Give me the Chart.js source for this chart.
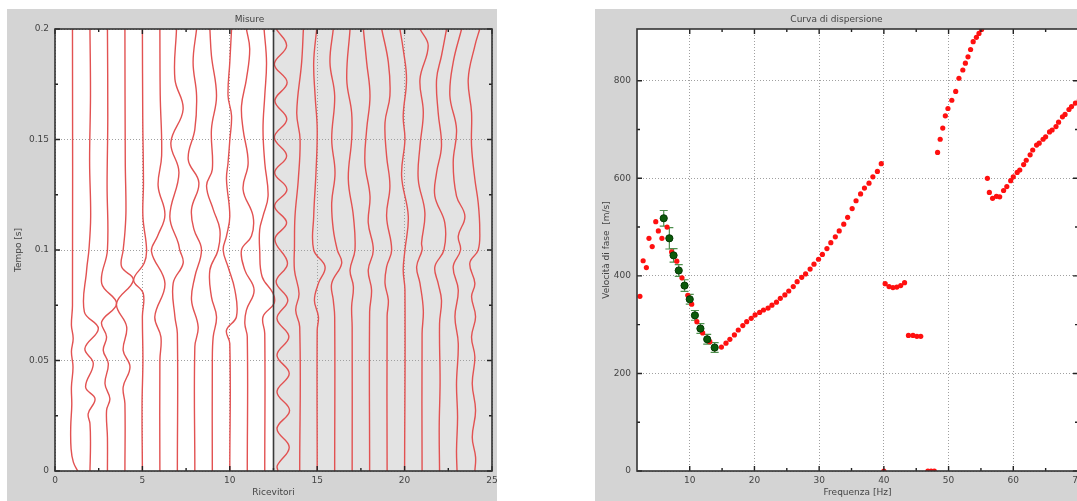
<!DOCTYPE html>
<html>
<head>
<meta charset="utf-8">
<script src="https://cdn.jsdelivr.net/npm/chart.js@4/dist/chart.umd.min.js"></script>
<style>
  html, body { margin: 0; padding: 0; background: #fff; overflow: hidden; width: 1077px; height: 501px; }
  canvas { position: absolute; background: #d4d4d4; }
  #misure { left: 7px; top: 9px; }
  #dispersione { left: 595px; top: 9px; }
</style>
</head>
<body>
<canvas id="misure" width="490" height="492"></canvas>
<canvas id="dispersione" width="493" height="492"></canvas>
<script>
// --- Misure: tracce dei ricevitori (tempo [s], spostamento in unita di ricevitore) ---
var ricevitori = [1, 2, 3, 4, 5, 6, 7, 8, 9, 10, 11, 12, 13, 14, 15, 16, 17, 18, 19, 20, 21, 22, 23, 24];
var tickRicevitori = [0, 5, 10, 15, 20, 25];
var tickTempo = [0, 0.05, 0.1, 0.15, 0.2];
var tracce = [
  [[0.2, 0], [0.075, 0], [0.066, -0.06], [0.06, 0.04], [0.054, -0.06], [0.047, 0.03], [0.038, -0.06], [0.03, -0.04], [0.02, -0.1], [0.01, -0.08], [0.004, 0.05], [0, 0.3]],
  [[0.2, 0], [0.17, 0.03], [0.14, -0.02], [0.115, 0.04], [0.1, -0.06], [0.091, -0.19], [0.072, -0.32], [0.0645, 0.48], [0.0554, -0.29], [0.0486, 0.19], [0.038, -0.25], [0.0327, 0.29], [0.026, -0.1], [0.0214, 0], [0.012, 0.03], [0, 0]],
  [[0.2, 0], [0.16, 0.02], [0.13, -0.02], [0.1, 0], [0.0849, -0.33], [0.0758, 0.52], [0.0675, -0.33], [0.0607, -0.05], [0.0546, -0.24], [0.0486, 0.05], [0.0395, -0.14], [0.0327, 0.14], [0.0274, -0.05], [0.015, 0], [0, 0]],
  [[0.2, 0], [0.14, 0.02], [0.118, 0.06], [0.108, 0], [0.1, -0.1], [0.0924, -0.19], [0.0864, 0.48], [0.0758, -0.48], [0.0652, 0.1], [0.0546, -0.1], [0.0471, 0.29], [0.038, -0.1], [0.0305, 0], [0, 0]],
  [[0.2, 0], [0.16, 0.02], [0.13, 0.06], [0.115, 0.03], [0.1, 0.24], [0.094, 0.1], [0.0864, -0.5], [0.0803, 0.05], [0.07, 0], [0.05, 0.03], [0.03, -0.02], [0, 0]],
  [[0.2, 0], [0.17, 0.02], [0.1426, 0.1], [0.129, -0.1], [0.116, 0.29], [0.1063, -0.13], [0.0993, -0.48], [0.0849, 0.29], [0.0698, -0.29], [0.0607, 0.06], [0.05, 0], [0, 0]],
  [[0.2, -0.05], [0.1773, -0.14], [0.1637, 0.33], [0.1486, -0.37], [0.135, 0.09], [0.1153, -0.43], [0.1032, 0.05], [0.1, 0.14], [0.094, 0.33], [0.0849, -0.24], [0.0698, -0.14], [0.0622, 0], [0, 0]],
  [[0.2, 0.1], [0.1849, -0.1], [0.1698, 0.1], [0.1546, 0], [0.141, -0.38], [0.1305, 0.23], [0.1184, -0.19], [0.1093, -0.05], [0.1002, 0.38], [0.0879, 0], [0.0773, -0.19], [0.0652, 0.19], [0.0562, 0], [0, 0]],
  [[0.2, -0.14], [0.1879, -0.05], [0.1698, 0.24], [0.1546, -0.05], [0.1365, 0], [0.129, -0.33], [0.1184, 0.05], [0.1093, 0.43], [0.1, 0.33], [0.0909, -0.14], [0.0788, -0.05], [0.0698, 0.24], [0.0607, 0.05], [0.05, 0], [0, 0]],
  [[0.2, 0.1], [0.1849, 0], [0.1698, -0.1], [0.1607, 0.1], [0.1497, 0], [0.1395, -0.1], [0.132, -0.19], [0.1153, 0], [0.1063, -0.19], [0.1, -0.38], [0.0924, -0.1], [0.0819, 0.29], [0.0698, 0.38], [0.0637, -0.19], [0.0577, 0], [0, 0]],
  [[0.2, -0.05], [0.1909, 0.14], [0.1773, -0.05], [0.1652, -0.33], [0.1546, -0.24], [0.1395, 0.05], [0.1274, -0.24], [0.1153, 0.33], [0.1063, 0.24], [0.1, -0.33], [0.0909, -0.14], [0.0819, 0.39], [0.0728, -0.05], [0.0667, -0.14], [0.0607, 0], [0, 0]],
  [[0.2, -0.04], [0.1849, 0.1], [0.1698, 0], [0.1546, -0.1], [0.1395, 0], [0.1244, 0.19], [0.1153, -0.1], [0.1093, -0.29], [0.1, -0.29], [0.0879, -0.15], [0.0803, 0.48], [0.0758, 0.53], [0.0698, -0.1], [0.0622, 0], [0, 0]],
  [[0.2, -0.35], [0.1924, 0.25], [0.1841, -0.45], [0.1758, 0.28], [0.1675, -0.42], [0.1592, 0.26], [0.1509, -0.45], [0.1426, 0.25], [0.135, -0.43], [0.1274, 0.27], [0.1199, -0.44], [0.1123, 0.25], [0.1048, -0.42], [0.094, 0.3], [0.0856, -0.35], [0.0773, 0.32], [0.069, -0.3], [0.0607, 0.38], [0.0524, -0.3], [0.0441, 0.4], [0.0358, -0.3], [0.0274, 0.42], [0.0191, -0.3], [0.0108, 0.4], [0.0025, -0.28], [0, -0.25]],
  [[0.2, 0.21], [0.1849, 0.11], [0.1622, -0.17], [0.1501, 0.02], [0.132, -0.08], [0.1153, -0.27], [0.1017, -0.3], [0.0909, -0.3], [0.0803, -0.04], [0.0728, -0.23], [0.0652, 0], [0, 0]],
  [[0.2, -0.03], [0.1849, -0.2], [0.1698, -0.12], [0.1546, 0], [0.135, -0.07], [0.1153, -0.2], [0.1, -0.2], [0.0924, 0.45], [0.0849, 0.07], [0.0773, -0.16], [0.0698, 0.07], [0.0637, 0], [0, 0]],
  [[0.2, -0.08], [0.1849, -0.27], [0.1698, 0], [0.1501, -0.17], [0.135, 0.02], [0.1214, -0.17], [0.1093, -0.08], [0.1, 0.15], [0.094, 0.4], [0.0849, -0.17], [0.0773, -0.08], [0.0698, 0], [0, 0]],
  [[0.2, -0.12], [0.1773, -0.31], [0.1622, -0.03], [0.1501, -0.03], [0.132, -0.22], [0.1153, 0.07], [0.1, 0.16], [0.0909, -0.12], [0.0834, 0.07], [0.0743, -0.03], [0.065, 0], [0, 0]],
  [[0.2, -0.36], [0.1849, -0.17], [0.1698, 0.02], [0.1546, -0.17], [0.1395, -0.27], [0.1244, 0.02], [0.1123, -0.08], [0.1, 0.21], [0.0909, -0.08], [0.0819, 0.11], [0.072, 0], [0, 0]],
  [[0.2, -0.31], [0.1849, 0.07], [0.1698, 0.16], [0.1577, -0.12], [0.1426, -0.03], [0.129, 0.16], [0.1153, -0.03], [0.1, 0.26], [0.0924, -0.03], [0.0849, -0.12], [0.0773, 0.07], [0.07, 0], [0, 0]],
  [[0.2, -0.27], [0.1909, -0.08], [0.1773, 0.11], [0.1607, -0.08], [0.1501, 0.02], [0.1335, -0.17], [0.1153, 0.21], [0.1, 0.02], [0.0909, -0.08], [0.0819, 0.02], [0, 0]],
  [[0.2, -0.12], [0.1924, 0.35], [0.1773, -0.12], [0.1622, 0.07], [0.1471, -0.12], [0.132, -0.22], [0.1169, 0.16], [0.1032, -0.03], [0.1, 0], [0.0924, -0.31], [0.0849, -0.12], [0.0728, 0.07], [0.062, 0], [0, 0]],
  [[0.2, 0.4], [0.1879, 0.11], [0.1773, -0.17], [0.1622, -0.08], [0.1471, 0.11], [0.135, -0.17], [0.1244, -0.27], [0.1123, 0.3], [0.1, 0.25], [0.0924, -0.27], [0.0849, -0.08], [0.0773, 0.11], [0.0667, 0], [0.04, 0.03], [0.02, -0.02], [0, 0]],
  [[0.2, 0.26], [0.1849, -0.22], [0.1698, -0.41], [0.1546, -0.03], [0.1395, -0.22], [0.1244, -0.03], [0.1153, 0.45], [0.1063, 0.07], [0.1, 0.2], [0.0924, -0.22], [0.0819, 0.07], [0.0698, -0.12], [0.0577, 0.07], [0.0395, -0.03], [0.0244, 0.03], [0.0093, -0.03], [0, 0]],
  [[0.2, 0.3], [0.1924, 0.02], [0.1773, -0.36], [0.1622, -0.17], [0.1471, -0.17], [0.132, 0.02], [0.1214, 0.21], [0.1093, 0.3], [0.1, 0.21], [0.094, -0.27], [0.0849, 0.02], [0.0788, -0.17], [0.0698, 0.06], [0.0607, -0.17], [0.0516, 0.02], [0.0395, -0.13], [0.0274, 0.06], [0.0153, -0.13], [0.0063, 0.06], [0, 0.02]]
];

// --- Curva di dispersione ---
var frequenze = [2.3, 2.8, 3.3, 3.7, 4.2, 4.75, 5.15, 5.7, 6.5, 7.2, 8.0, 8.8, 9.7, 10.3, 11.1, 12.0, 13.1, 13.9,
  14.9, 15.6, 16.2, 16.9, 17.5, 18.2, 18.8, 19.5, 20.1, 20.8, 21.4, 22.1, 22.7, 23.4, 24.0, 24.7, 25.3, 26.0, 26.6, 27.3,
  27.9, 28.6, 29.2, 29.9, 30.5, 31.2, 31.8, 32.5, 33.1, 33.8, 34.4, 35.1, 35.7, 36.4, 37.0, 37.7, 38.3, 39.0, 39.6,
  40.0, 40.2, 40.8, 41.4, 42.0, 42.6, 43.2, 43.8, 44.5, 45.1, 45.7, 46.8, 47.3, 47.8,
  48.3, 48.7, 49.1, 49.5, 49.9, 50.5, 51.1, 51.6, 52.2, 52.6, 53.0, 53.4, 53.8, 54.3, 54.7, 55.1,
  56.0, 56.3, 56.8, 57.4, 57.9, 58.5, 59.0, 59.6, 60.0, 60.6, 61.0, 61.6, 62.0, 62.6, 63.0, 63.6, 64.0, 64.6, 65.0,
  65.6, 66.0, 66.6, 67.0, 67.6, 68.0, 68.6, 69.0, 69.6, 70.2];
var velocita = [358, 431, 417, 477, 460, 511, 492, 477, 500, 449, 430, 396, 360, 342, 306, 283, 265, 251,
  254, 262, 270, 279, 289, 298, 306, 313, 320, 325, 330, 334, 340, 346, 354, 361, 369, 378, 388, 397,
  404, 414, 424, 434, 444, 456, 468, 480, 492, 506, 520, 538, 554, 568, 580, 590, 603, 614, 630,
  0, 384, 378, 376, 377, 380, 386, 278, 278, 276, 276, 0, 0, 0,
  653, 680, 703, 728, 743, 760, 778, 805, 822, 836, 849, 864, 880, 889, 897, 905,
  600, 571, 559, 563, 562, 575, 583, 595, 603, 612, 617, 628, 637, 648, 658, 668, 672, 680, 685,
  695, 699, 706, 715, 726, 731, 741, 747, 754, 760];
var freqMedie = [5.98, 6.85, 7.5, 8.3, 9.2, 10.0, 10.8, 11.65, 12.7, 13.85];
var velMedie = [518, 477, 442, 411, 380, 352, 319, 292, 270, 253];
var errori = [16, 22, 14, 12, 12, 10, 10, 10, 10, 10];
var tickFrequenza = [10, 20, 30, 40, 50, 60, 70];
var tickVelocita = [0, 200, 400, 600, 800];

Chart.defaults.font.family = '"DejaVu Sans", sans-serif';
Chart.defaults.font.size = 9;
Chart.defaults.color = '#444';

// sfondo bianco, zona grigia, cornice e tacche interne
var cornice = {
  id: 'cornice',
  beforeDraw: function (chart, args, o) {
    var a = chart.chartArea, ctx = chart.ctx;
    ctx.save();
    ctx.fillStyle = '#fff';
    ctx.fillRect(a.left, a.top, a.width, a.height);
    if (o.grigio != null) {
      var xg = chart.scales.x.getPixelForValue(o.grigio);
      ctx.fillStyle = '#e3e3e3';
      ctx.fillRect(xg, a.top, a.right - xg, a.height);
    }
    ctx.restore();
  },
  afterDatasetsDraw: function (chart, args, o) {
    var a = chart.chartArea, ctx = chart.ctx;
    ctx.save();
    if (o.grigio != null) {
      var xl = chart.scales.x.getPixelForValue(o.grigio);
      ctx.strokeStyle = '#3a3a3a';
      ctx.lineWidth = 1.6;
      ctx.beginPath(); ctx.moveTo(xl, a.top); ctx.lineTo(xl, a.bottom); ctx.stroke();
    }
    ctx.strokeStyle = '#222';
    ctx.lineWidth = 1.4;
    var tacca = function (s, v, len) {
      var p = s.getPixelForValue(v);
      ctx.beginPath();
      if (s.isHorizontal()) {
        ctx.moveTo(p, a.bottom); ctx.lineTo(p, a.bottom - len);
        ctx.moveTo(p, a.top); ctx.lineTo(p, a.top + len);
      } else {
        ctx.moveTo(a.left, p); ctx.lineTo(a.left + len, p);
        ctx.moveTo(a.right, p); ctx.lineTo(a.right - len, p);
      }
      ctx.stroke();
    };
    [chart.scales.x, chart.scales.y].forEach(function (s) {
      var v = s.ticks.map(function (t) { return t.value; });
      v.forEach(function (val) { tacca(s, val, 5); });
      for (var i = 1; i < v.length; i++) tacca(s, (v[i - 1] + v[i]) / 2, 3);
    });
    ctx.strokeStyle = '#333';
    ctx.lineWidth = 1.6;
    ctx.strokeRect(a.left, a.top, a.width, a.height);
    ctx.restore();
  }
};

// barre d'errore dei punti medi
var barreErrore = {
  id: 'barreErrore',
  beforeDatasetsDraw: function (chart) {
    var ctx = chart.ctx, sx = chart.scales.x, sy = chart.scales.y;
    ctx.save();
    ctx.strokeStyle = '#4e8f4e';
    ctx.lineWidth = 1.2;
    freqMedie.forEach(function (f, i) {
      var x = sx.getPixelForValue(f);
      var y1 = sy.getPixelForValue(velMedie[i] - errori[i]);
      var y2 = sy.getPixelForValue(velMedie[i] + errori[i]);
      ctx.beginPath();
      ctx.moveTo(x, y1); ctx.lineTo(x, y2);
      ctx.moveTo(x - 4, y1); ctx.lineTo(x + 4, y1);
      ctx.moveTo(x - 4, y2); ctx.lineTo(x + 4, y2);
      ctx.stroke();
    });
    ctx.restore();
  }
};

function asse(ticks, titolo, min, max, orizzontale, larghezza) {
  return {
    type: 'linear', min: min, max: max,
    afterBuildTicks: function (s) { s.ticks = ticks.map(function (v) { return { value: v }; }); },
    afterFit: function (s) {
      if (orizzontale) { s.height = 30; s.paddingLeft = 0; s.paddingRight = 0; }
      else { s.width = larghezza; s.paddingTop = 0; s.paddingBottom = 0; }
    },
    ticks: { padding: orizzontale ? 4 : 6, color: '#444', callback: function (v) { return String(v); } },
    grid: { color: '#a0a0a0', lineWidth: 1, drawTicks: false },
    border: { display: false, dash: [1, 2] },
    title: { display: true, text: titolo, color: '#444', padding: orizzontale ? { top: 0, bottom: 3 } : { top: 6, bottom: 0 } }
  };
}

new Chart(document.getElementById('misure'), {
  type: 'scatter',
  data: {
    datasets: tracce.map(function (tr, i) {
      return {
        data: tr.map(function (p) { return { x: ricevitori[i] + p[1], y: p[0] }; }),
        showLine: true, pointRadius: 0, borderColor: 'rgb(226,82,82)', borderWidth: 1.4, tension: 0.4
      };
    })
  },
  options: {
    responsive: false, animation: false,
    layout: { padding: { left: 0, right: 5, top: 0, bottom: 0 } },
    scales: {
      x: asse(tickRicevitori, 'Ricevitori', 0, 25, true),
      y: asse(tickTempo, 'Tempo [s]', 0, 0.2, false, 48)
    },
    plugins: {
      legend: { display: false }, tooltip: { enabled: false },
      title: { display: true, text: 'Misure', color: '#444', font: { size: 9, weight: 'normal' }, padding: { top: 5, bottom: 4.2 } },
      cornice: { grigio: 12.5 }
    }
  },
  plugins: [cornice]
});

new Chart(document.getElementById('dispersione'), {
  type: 'scatter',
  data: {
    datasets: [
      {
        data: freqMedie.map(function (f, i) { return { x: f, y: velMedie[i] }; }),
        pointRadius: 3.6, backgroundColor: '#0b5a0b', borderColor: '#053a05', borderWidth: 1
      },
      {
        data: frequenze.map(function (f, i) { return { x: f, y: velocita[i] }; }),
        pointRadius: 2.6, backgroundColor: '#ff1010', borderWidth: 0
      }
    ]
  },
  options: {
    responsive: false, animation: false,
    layout: { padding: { left: 0, right: 10, top: 0, bottom: 0 } },
    scales: {
      x: asse(tickFrequenza, 'Frequenza [Hz]', 1.85, 70, true),
      y: asse(tickVelocita, 'Velocità di fase  [m/s]', 0, 906, false, 42)
    },
    plugins: {
      legend: { display: false }, tooltip: { enabled: false },
      title: { display: true, text: 'Curva di dispersione', color: '#444', font: { size: 9, weight: 'normal' }, padding: { top: 5, bottom: 4.2 } },
      cornice: {}
    }
  },
  plugins: [cornice, barreErrore]
});
</script>
</body>
</html>
